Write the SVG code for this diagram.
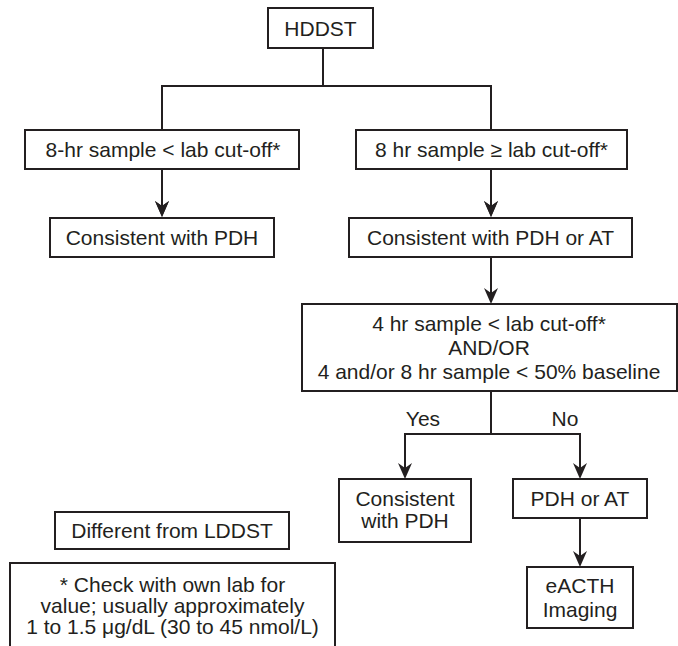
<svg xmlns="http://www.w3.org/2000/svg" width="678" height="646" viewBox="0 0 678 646">
<style>
.box{fill:#fff;stroke:#231f20;stroke-width:2}
.t{font-family:"Liberation Sans",Arial,sans-serif;font-size:21px;fill:#231f20;text-anchor:middle}
.c{fill:none;stroke:#231f20;stroke-width:2;marker-end:url(#ah)}
.n{fill:none;stroke:#231f20;stroke-width:2}
</style>
<defs>
<marker id="ah" markerUnits="userSpaceOnUse" markerWidth="18" markerHeight="16" viewBox="0 0 18 16" refX="12" refY="8" orient="auto">
<path d="M16 8 L0 1 L5 8 L0 15 Z" fill="#231f20"/>
</marker>
</defs>
<rect width="678" height="646" fill="#fff"/>
<g id="connectors">
<path class="n" d="M323 48 V86"/>
<path class="c" d="M323 86 H162 V213"/>
<path class="c" d="M323 86 H491 V213"/>
<path class="c" d="M162 169 V213"/>
<path class="c" d="M491 169 V213"/>
<path class="c" d="M491 257 V300"/>
<path class="n" d="M491 391 V434"/>
<path class="c" d="M491 434 H405 V475"/>
<path class="c" d="M491 434 H580 V475"/>
<path class="c" d="M580 518 V563"/>
<text class="t" x="423" y="426">Yes</text>
<text class="t" x="565" y="426">No</text>
</g>
<g id="hddst">
<rect class="box" x="268" y="8" width="105" height="40"/>
<text class="t" x="320.5" y="35.5">HDDST</text>
</g>
<g id="low8">
<rect class="box" x="25" y="130" width="274" height="39"/>
<text class="t" x="163" y="157">8-hr sample &lt; lab cut-off*</text>
</g>
<g id="high8">
<rect class="box" x="356" y="130" width="271" height="39"/>
<text class="t" x="491.5" y="157">8 hr sample ≥ lab cut-off*</text>
</g>
<g id="pdh1">
<rect class="box" x="50" y="218" width="224" height="39"/>
<text class="t" x="162" y="245">Consistent with PDH</text>
</g>
<g id="pdhat1">
<rect class="box" x="349" y="218" width="283" height="39"/>
<text class="t" x="490.5" y="245">Consistent with PDH or AT</text>
</g>
<g id="criteria">
<rect class="box" x="302" y="304" width="375" height="87"/>
<text class="t" x="489" y="331">4 hr sample &lt; lab cut-off*</text>
<text class="t" x="489" y="355">AND/OR</text>
<text class="t" x="489" y="379">4 and/or 8 hr sample &lt; 50% baseline</text>
</g>
<g id="pdh2">
<rect class="box" x="339" y="479" width="132" height="63"/>
<text class="t" x="405" y="506">Consistent</text>
<text class="t" x="405" y="528">with PDH</text>
</g>
<g id="pdhat2">
<rect class="box" x="513" y="479" width="134" height="39"/>
<text class="t" x="580" y="506">PDH or AT</text>
</g>
<g id="eacth">
<rect class="box" x="527" y="567" width="106" height="61"/>
<text class="t" x="580" y="593">eACTH</text>
<text class="t" x="580" y="617">Imaging</text>
</g>
<g id="lddst">
<rect class="box" x="55" y="512" width="234" height="37"/>
<text class="t" x="172" y="538">Different from LDDST</text>
</g>
<g id="footnote">
<rect class="box" x="10" y="563" width="325" height="100"/>
<text class="t" x="172.5" y="592">* Check with own lab for</text>
<text class="t" x="172.5" y="613">value; usually approximately</text>
<text class="t" x="172.5" y="634">1 to 1.5 μg/dL (30 to 45 nmol/L)</text>
</g>
</svg>
